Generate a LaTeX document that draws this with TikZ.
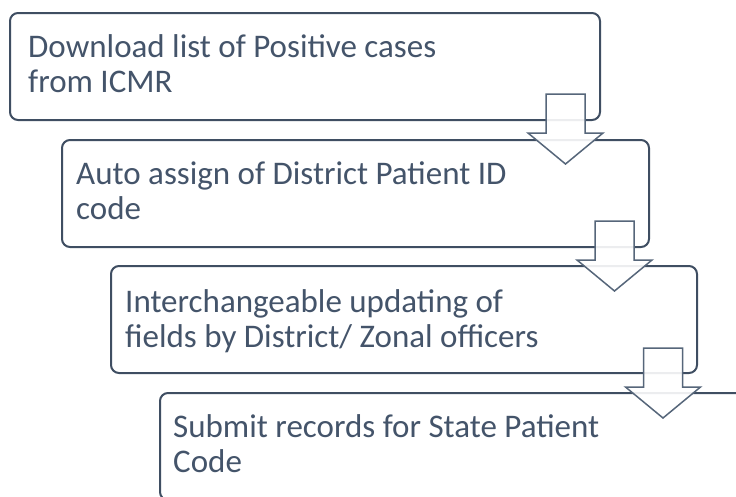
\documentclass[tikz,border=0pt]{standalone}
\usepackage{fontspec}
\setmainfont{Carlito}
\usetikzlibrary{calc}
\definecolor{boxline}{HTML}{3F4E62}
\definecolor{arrline}{HTML}{56667A}
\definecolor{txtcol}{HTML}{44546A}
\tikzset{
  stepbox/.style={draw=boxline, line width=2pt, rounded corners=8pt, fill=white,
    minimum width=587pt, minimum height=107pt, inner sep=0pt, outer sep=0pt,
    anchor=north west},
  % anchor base west sits on the baseline of the last line
  steptext/.style={text=txtcol, font=\fontsize{33}{35}\selectfont, align=left,
    inner sep=0pt, anchor=base west},
  arrline/.style={draw=arrline, line width=1.5pt, fill=white, fill opacity=0.9,
    line join=miter},
  pics/downarrow/.style={code={
    \path[arrline] (-19.5,0) -- (19.5,0) -- (19.5,39) -- (37.5,39) -- (0,70)
      -- (-37.5,39) -- (-19.5,39) -- cycle;}}
}
\begin{document}
\begin{tikzpicture}[x=1pt, y=-1pt]
  \useasboundingbox (0,0) rectangle (736,496);
  \clip (0,0) rectangle (736,496);

  % step 1
  \node[stepbox, minimum width=590pt] (b1) at (10,13) {};
  \node[steptext] (t1) at ($(b1.north west)+(18,79)$)
    {Download list of Positive cases\\from ICMR};

  % step 2
  \node[stepbox] (b2) at (62,140) {};
  \node[steptext] (t2) at ($(b2.north west)+(14,79)$)
    {Auto assign of District Patient ID\\code};
  \pic at ($(b1.south east)+(-34.5,-26)$) {downarrow};

  % step 3
  \node[stepbox, minimum width=586pt] (b3) at (111,266) {};
  \node[steptext] (t3) at ($(b3.north west)+(14,81)$)
    {Interchangeable updating of\\fields by District/ Zonal officers};
  \pic at ($(b2.south east)+(-34.5,-26)$) {downarrow};

  % step 4
  \node[stepbox] (b4) at (160,393) {};
  \node[steptext] (t4) at ($(b4.north west)+(13,79)$)
    {Submit records for State Patient\\Code};
  \pic at ($(b3.south east)+(-34,-25)$) {downarrow};
\end{tikzpicture}
\end{document}
